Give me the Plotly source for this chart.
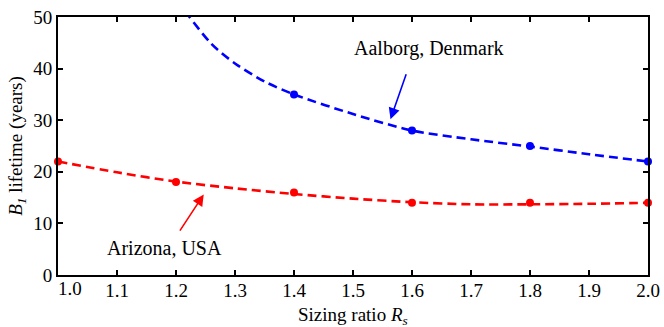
import plotly.graph_objects as go

# Data
tick_x = [1.1, 1.2, 1.3, 1.4, 1.5, 1.6, 1.7, 1.8, 1.9, 2.0]
tick_y = [0, 10, 20, 30, 40, 50]

# Aalborg, Denmark (blue)
aal_x = [1.4, 1.6, 1.8, 2.0]
aal_y = [35.0, 28.0, 25.0, 22.0]
aal_curve_x = [1.2, 1.22, 1.26, 1.3, 1.35, 1.4, 1.5, 1.6, 1.7, 1.8, 1.9, 2.0]
aal_curve_y = [53.2, 50.4, 44.8, 41.0, 37.5, 35.0, 31.2, 28.0, 26.3, 24.9, 23.4, 22.0]

# Arizona, USA (red)
ari_x = [1.0, 1.2, 1.4, 1.6, 1.8, 2.0]
ari_y = [22.0, 18.0, 16.0, 14.0, 14.0, 14.0]
ari_curve_x = [1.0, 1.1, 1.2, 1.3, 1.4, 1.5, 1.6, 1.7, 1.8, 1.9, 2.0]
ari_curve_y = [22.0, 19.9, 18.1, 16.8, 15.7, 14.8, 14.1, 13.7, 13.7, 13.8, 14.0]

FONT = "Liberation Serif, Times New Roman, serif"
BLUE = "#0000ff"
RED = "#ff0000"

fig = go.Figure()
fig.add_trace(go.Scatter(x=aal_curve_x, y=aal_curve_y, mode="lines",
                         line=dict(color=BLUE, width=2.6, dash="9px,5px", shape="spline", smoothing=0.8),
                         showlegend=False, hoverinfo="skip"))
fig.add_trace(go.Scatter(x=aal_x, y=aal_y, mode="markers",
                         marker=dict(color=BLUE, size=8), showlegend=False, cliponaxis=False))
fig.add_trace(go.Scatter(x=ari_curve_x, y=ari_curve_y, mode="lines",
                         line=dict(color=RED, width=2.6, dash="9px,5px", shape="spline", smoothing=0.8),
                         showlegend=False, hoverinfo="skip"))
fig.add_trace(go.Scatter(x=ari_x, y=ari_y, mode="markers",
                         marker=dict(color=RED, size=8), showlegend=False, cliponaxis=False))

annotations = [
    dict(x=1.5635, y=30.2, ax=1.591, ay=39.2, xref="x", yref="y", axref="x", ayref="y",
         text="", showarrow=True, arrowhead=2, arrowsize=1.4, arrowwidth=1.6, arrowcolor=BLUE),
    dict(x=1.247, y=15.6, ax=1.205, ay=8.3, xref="x", yref="y", axref="x", ayref="y",
         text="", showarrow=True, arrowhead=2, arrowsize=1.4, arrowwidth=1.6, arrowcolor=RED),
    dict(x=1.628, y=43.8, xref="x", yref="y", text="Aalborg, Denmark", showarrow=False,
         font=dict(family=FONT, size=20, color="black")),
    dict(x=1.181, y=5.3, xref="x", yref="y", text="Arizona, USA", showarrow=False,
         font=dict(family=FONT, size=20, color="black")),
    dict(x=1.02, y=0, xref="x", yref="paper", yanchor="top", yshift=-1, text="1.0", showarrow=False,
         font=dict(family=FONT, size=19, color="black")),
    dict(x=0.5, y=0, xref="paper", yref="paper", yanchor="top", yshift=-27,
         text="Sizing ratio <i>R</i><sub><i>s</i></sub>", showarrow=False,
         font=dict(family=FONT, size=19, color="black")),
]

fig.update_layout(
    width=664, height=327,
    margin=dict(l=58, r=16, t=17, b=52),
    paper_bgcolor="white", plot_bgcolor="white",
    font=dict(family=FONT, size=19, color="black"),
    annotations=annotations,
    xaxis=dict(range=[1.0, 2.0], tickvals=tick_x, ticktext=[f"{v:.1f}" for v in tick_x],
               ticks="inside", ticklen=5, tickwidth=1.5, tickcolor="black",
               showline=True, linewidth=2, linecolor="black", mirror="ticks",
               showgrid=False, zeroline=False, ticklabelstandoff=-3, automargin=False),
    yaxis=dict(range=[0, 50], tickvals=tick_y, automargin=False,
               ticks="inside", ticklen=5, tickwidth=1.5, tickcolor="black",
               showline=True, linewidth=2, linecolor="black", mirror="ticks",
               showgrid=False, zeroline=False,
               title=dict(text="<i>B</i><sub><i>1</i></sub> lifetime (years)", standoff=6,
                          font=dict(family=FONT, size=19))),
)

fig.write_html("out.html")
